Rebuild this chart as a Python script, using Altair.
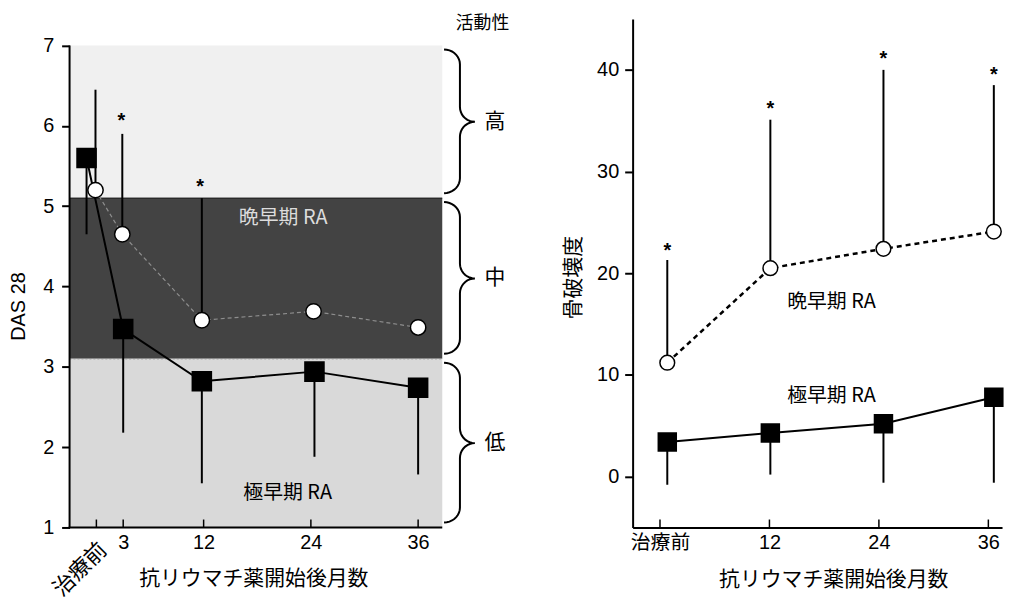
import altair as alt
import pandas as pd
import numpy as np

# ---------------- data: left panel (DAS 28) ----------------
L_TICK_MONTHS = [0, 3, 12, 24, 36]
L_TICK_LABELS = ["治療前", "3", "12", "24", "36"]

l_sq_x = [-1.1, 3.0, 11.8, 24.4, 36.0]          # 極早期 RA
l_sq_y = [5.60, 3.47, 2.82, 2.94, 2.74]
l_sq_low = [4.65, 2.18, 1.55, 1.88, 1.66]

l_ci_x = [-0.1, 2.9, 11.8, 24.3, 36.0]          # 晩早期 RA
l_ci_y = [5.20, 4.65, 3.58, 3.69, 3.49]
l_ci_high_x = [-0.1, 2.9, 11.8]
l_ci_high = [6.45, 5.90, 5.10]
l_star_x = [2.8, 11.6]
l_star_y = [6.12, 5.30]

band_lo = [5.1, 3.1, 1.0]
band_hi = [7.0, 5.1, 3.1]
band_names = ["高", "中", "低"]
band_colors = ["#f0f0f0", "#434343", "#d9d9d9"]

# ---------------- data: right panel (骨破壊度) ----------------
R_TICK_MONTHS = [0, 12, 24, 36]
r_x = [0.8, 12.1, 24.5, 36.6]
r_ci_y = [11.2, 20.5, 22.4, 24.1]                # 晩早期 RA
r_ci_high = [21.3, 35.1, 40.0, 38.5]
r_star_y = [22.7, 36.6, 41.6, 40.0]
r_sq_y = [3.4, 4.3, 5.2, 7.8]                    # 極早期 RA
r_sq_low = [-0.8, 0.2, -0.6, -0.6]

FONT = "Liberation Sans, Noto Sans CJK JP, sans-serif"
JFONT = "Noto Sans CJK JP, sans-serif"

# ---------------- left panel ----------------
LW, LH = 450, 512
LXD = [-3, 47]
LYD = [1, 7.33]
lxs = alt.Scale(domain=LXD, nice=False, zero=False)
lys = alt.Scale(domain=LYD, nice=False, zero=False)
lx_axis = alt.Axis(values=[3, 12, 24, 36], ticks=False, tickSize=0, domain=False, grid=False,
                   labelPadding=5, labelFontSize=20, labelFont=FONT, labelColor="black",
                   title="抗リウマチ薬開始後月数", titleFont=JFONT, titleFontSize=21,
                   titleFontWeight="normal", titleColor="black", titleX=185, titleY=51,
                   titleAlign="center", titleBaseline="middle")
ly_axis = alt.Axis(values=[1, 2, 3, 4, 5, 6, 7], domain=False, grid=False, tickSize=8, tickWidth=2,
                   tickColor="black", labelPadding=8, labelFontSize=20, labelFont=FONT,
                   labelColor="black", title="DAS 28", titleFont=FONT, titleFontSize=20,
                   titleFontWeight="normal", titleColor="black", titleX=-51, titleY=289,
                   titleAlign="center", titleBaseline="middle")


def LX(f=None, datum=None):
    if datum is not None:
        return alt.XDatum(datum, type="quantitative", scale=lxs, axis=lx_axis)
    return alt.X(f, type="quantitative", scale=lxs, axis=lx_axis)


def LY(f=None, datum=None):
    if datum is not None:
        return alt.YDatum(datum, type="quantitative", scale=lys, axis=ly_axis)
    return alt.Y(f, type="quantitative", scale=lys, axis=ly_axis)


bands = pd.DataFrame({"lo": band_lo, "hi": band_hi, "name": band_names, "col": band_colors})
band_layer = alt.Chart(bands).mark_rect().encode(
    x=LX(datum=-3), x2=alt.X2Datum(38.7), y=LY("lo"), y2="hi",
    color=alt.Color("col:N", scale=None))
edge_rule = alt.Chart(pd.DataFrame({"v": [5.1]})).mark_rule(color="black", strokeWidth=1).encode(
    x=LX(datum=-3), x2=alt.X2Datum(38.7), y=LY("v"))
edge_rule2 = alt.Chart(pd.DataFrame({"v": [3.1]})).mark_rule(color="#888888", strokeWidth=1,
                                                                strokeDash=[2, 2]).encode(
    x=LX(datum=-3), x2=alt.X2Datum(38.7), y=LY("v"))

l_yline = alt.Chart(pd.DataFrame({"a": [1]})).mark_rule(color="black", strokeWidth=2).encode(
    x=LX(datum=-3), y=LY(datum=1), y2=alt.Y2Datum(7))
l_xline = alt.Chart(pd.DataFrame({"a": [1]})).mark_rule(color="black", strokeWidth=2).encode(
    x=LX(datum=-3.1), x2=alt.X2Datum(38.7), y=LY(datum=1))
l_ticks = alt.Chart(pd.DataFrame({"m": L_TICK_MONTHS})).mark_rule(color="black", strokeWidth=1.5).encode(
    x=LX("m"), y=alt.value(LH), y2=alt.value(LH - 8))
l_zero_label = alt.Chart(pd.DataFrame({"m": [L_TICK_MONTHS[0]], "v": [1], "t": [L_TICK_LABELS[0]]})).mark_text(
    angle=315, align="right", baseline="middle", fontSize=22, font=JFONT, color="black",
    xOffset=7, yOffset=19).encode(x=LX("m"), y=LY("v"), text="t:N")

l_sq = pd.DataFrame({"x": l_sq_x, "y": l_sq_y, "lo": l_sq_low})
l_ci = pd.DataFrame({"x": l_ci_x, "y": l_ci_y})
l_cih = pd.DataFrame({"x": l_ci_high_x, "y": l_ci_y[:3], "hi": l_ci_high})
l_st = pd.DataFrame({"x": l_star_x, "y": l_star_y})

l_ci_line = alt.Chart(l_ci).mark_line(color="#8e8e8e", strokeWidth=1.2, strokeDash=[4, 3]).encode(
    x=LX("x"), y=LY("y"))
l_sq_line = alt.Chart(l_sq).mark_line(color="black", strokeWidth=2).encode(x=LX("x"), y=LY("y"))
l_sq_err = alt.Chart(l_sq).mark_rule(color="black", strokeWidth=2).encode(
    x=LX("x"), y=LY("y"), y2="lo")
l_ci_err = alt.Chart(l_cih).mark_rule(color="black", strokeWidth=2).encode(
    x=LX("x"), y=LY("y"), y2="hi")
l_sq_pts = alt.Chart(l_sq).mark_point(shape="square", filled=True, fill="black", stroke="black",
                                      size=350, opacity=1).encode(x=LX("x"), y=LY("y"))
l_ci_pts = alt.Chart(l_ci).mark_point(shape="circle", filled=True, fill="white", stroke="black",
                                      strokeWidth=1.5, size=240, opacity=1).encode(x=LX("x"), y=LY("y"))
l_stars = alt.Chart(l_st).mark_text(text="*", fontSize=20, fontWeight="bold", font=FONT,
                                    color="black", baseline="middle", dy=5).encode(x=LX("x"), y=LY("y"))

l_texts = pd.DataFrame({"x": [20.9, 21.4], "y": [4.85, 1.43], "t": ["晩早期 RA", "極早期 RA"],
                        "c": ["#dcdcdc", "black"]})
l_text_layer = alt.Chart(l_texts).mark_text(fontSize=20, font=JFONT, baseline="middle").encode(
    x=LX("x"), y=LY("y"), text="t:N", color=alt.Color("c:N", scale=None))

# braces (shape generated from the band edges)
px_x = (LXD[1] - LXD[0]) / LW
px_y = (LYD[1] - LYD[0]) / LH
XE, XV, XT = 38.9, 38.9 + 16 * px_x, 38.9 + 31 * px_x
RY = 15
rows = []
for bi, (lo, hi) in enumerate(zip(band_lo, band_hi)):
    top = hi - 4 * px_y
    bot = lo + 5 * px_y
    mid = (lo + hi) / 2
    pts = []
    th = np.linspace(0, np.pi / 2, 10)
    for t in th:
        pts.append((XE + (XV - XE) * np.sin(t), top - RY * px_y * (1 - np.cos(t))))
    for t in th:
        pts.append((XT - (XT - XV) * np.cos(t), mid + RY * px_y - RY * px_y * np.sin(t)))
    for t in th[::-1]:
        pts.append((XT - (XT - XV) * np.cos(t), mid - RY * px_y + RY * px_y * np.sin(t)))
    for t in th[::-1]:
        pts.append((XE + (XV - XE) * np.sin(t), bot + RY * px_y * (1 - np.cos(t))))
    for i, (a, b) in enumerate(pts):
        rows.append({"b": bi, "i": i, "x": a, "y": b})
braces = pd.DataFrame(rows)
brace_layer = alt.Chart(braces).mark_line(color="black", strokeWidth=2).encode(
    x=LX("x"), y=LY("y"), detail="b:N", order="i:Q")

blabels = pd.DataFrame({"x": [44.6] * 3, "y": [(a + b) / 2 for a, b in zip(band_lo, band_hi)],
                        "t": band_names})
blabel_layer = alt.Chart(blabels).mark_text(fontSize=21, font=JFONT, color="black",
                                            baseline="middle").encode(x=LX("x"), y=LY("y"), text="t:N")
act_title = alt.Chart(pd.DataFrame({"x": [43.2], "y": [7.33], "t": ["活動性"]})).mark_text(
    fontSize=18, font=JFONT, color="black", baseline="middle", dy=5).encode(x=LX("x"), y=LY("y"), text="t:N")

left = alt.layer(band_layer, edge_rule, edge_rule2, l_yline, l_xline, l_ticks, l_zero_label,
                 l_ci_line, l_sq_line, l_sq_err, l_ci_err, l_sq_pts, l_ci_pts, l_stars,
                 l_text_layer, brace_layer, blabel_layer, act_title).properties(width=LW, height=LH)

# ---------------- right panel ----------------
RW, RH = 372, 512
rxs = alt.Scale(domain=[-3, 37.5], nice=False, zero=False)
rys = alt.Scale(domain=[-5, 45], nice=False, zero=False)
rx_axis = alt.Axis(values=R_TICK_MONTHS, labelExpr="datum.value == 0 ? '治療前' : datum.label",
                   ticks=False, tickSize=0, domain=True, domainColor="black", domainWidth=2,
                   grid=False, labelPadding=5, labelFontSize=20, labelFont=FONT, labelColor="black",
                   title="抗リウマチ薬開始後月数", titleFont=JFONT, titleFontSize=21,
                   titleFontWeight="normal", titleColor="black", titleX=202, titleY=52,
                   titleAlign="center", titleBaseline="middle")
ry_axis = alt.Axis(values=[0, 10, 20, 30, 40], domain=True, domainColor="black", domainWidth=2,
                   grid=False, tickSize=8, tickWidth=2, tickColor="black", labelPadding=6,
                   labelFontSize=20, labelFont=FONT, labelColor="black", title="骨破壊度",
                   titleFont=JFONT, titleFontSize=21, titleFontWeight="normal", titleColor="black",
                   titleX=-59, titleY=260, titleAlign="center", titleBaseline="middle")


def RX(f):
    return alt.X(f, type="quantitative", scale=rxs, axis=rx_axis)


def RY_(f):
    return alt.Y(f, type="quantitative", scale=rys, axis=ry_axis)


r_df = pd.DataFrame({"x": r_x, "ci": r_ci_y, "cih": r_ci_high, "st": r_star_y,
                     "sq": r_sq_y, "sql": r_sq_low})
r_ticks = alt.Chart(pd.DataFrame({"m": R_TICK_MONTHS})).mark_rule(color="black", strokeWidth=1.5).encode(
    x=RX("m"), y=alt.value(RH), y2=alt.value(RH - 8))
r_ci_line = alt.Chart(r_df).mark_line(color="black", strokeWidth=2.5, strokeDash=[5, 4]).encode(
    x=RX("x"), y=RY_("ci"))
r_sq_line = alt.Chart(r_df).mark_line(color="black", strokeWidth=2).encode(x=RX("x"), y=RY_("sq"))
r_ci_err = alt.Chart(r_df).mark_rule(color="black", strokeWidth=2).encode(
    x=RX("x"), y=RY_("ci"), y2="cih")
r_sq_err = alt.Chart(r_df).mark_rule(color="black", strokeWidth=2).encode(
    x=RX("x"), y=RY_("sq"), y2="sql")
r_ci_pts = alt.Chart(r_df).mark_point(shape="circle", filled=True, fill="white", stroke="black",
                                      strokeWidth=1.5, size=220, opacity=1).encode(x=RX("x"), y=RY_("ci"))
r_sq_pts = alt.Chart(r_df).mark_point(shape="square", filled=True, fill="black", stroke="black",
                                      size=310, opacity=1).encode(x=RX("x"), y=RY_("sq"))
r_stars = alt.Chart(r_df).mark_text(text="*", fontSize=20, fontWeight="bold", font=FONT,
                                    color="black", baseline="middle", dy=5).encode(x=RX("x"), y=RY_("st"))
r_texts = pd.DataFrame({"x": [18.8, 18.8], "y": [17.2, 7.9], "t": ["晩早期 RA", "極早期 RA"]})
r_text_layer = alt.Chart(r_texts).mark_text(fontSize=20, font=JFONT, color="black",
                                            baseline="middle").encode(x=RX("x"), y=RY_("y"), text="t:N")

right = alt.layer(r_ticks, r_ci_line, r_sq_line, r_ci_err, r_sq_err, r_ci_pts, r_sq_pts, r_stars,
                  r_text_layer).properties(width=RW, height=RH)

chart = alt.hconcat(left, right, spacing=47).properties(
    padding={"left": 1, "top": 5, "right": 0, "bottom": 4},
    background="white"
).configure_view(strokeWidth=0, stroke="transparent")

chart.save("out.html", embed_options={"renderer": "svg", "actions": False})
